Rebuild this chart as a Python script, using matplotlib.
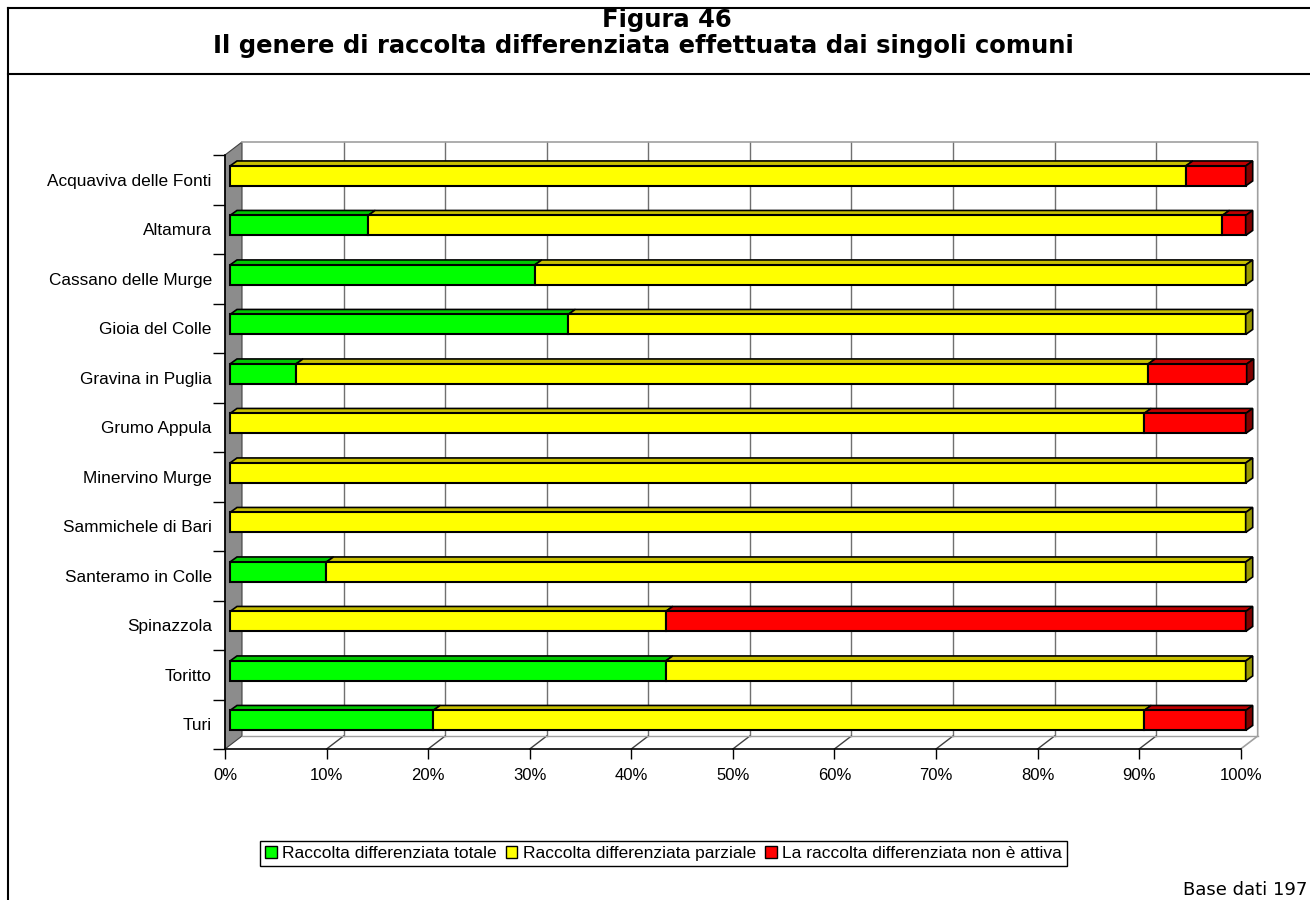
import matplotlib.pyplot as plt
from matplotlib.patches import Polygon, Patch
from matplotlib.lines import Line2D

comuni = ["Acquaviva delle Fonti", "Altamura", "Cassano delle Murge", "Gioia del Colle",
          "Gravina in Puglia", "Grumo Appula", "Minervino Murge", "Sammichele di Bari",
          "Santeramo in Colle", "Spinazzola", "Toritto", "Turi"]
totale = [0, 13.6, 30.0, 33.3, 6.5, 0, 0, 0, 9.5, 0, 42.9, 20.0]
parziale = [94.1, 84.1, 70.0, 66.7, 83.9, 90.0, 100, 100, 90.5, 42.9, 57.1, 70.0]
non_attiva = [5.9, 2.3, 0, 0, 9.7, 10.0, 0, 0, 0, 57.1, 0, 10.0]
serie = ["Raccolta differenziata totale", "Raccolta differenziata parziale",
         "La raccolta differenziata non è attiva"]
x_ticks = list(range(0, 101, 10))

# front / top / side colours per series
colori = [("#00ff00", "#00c800", "#008000"),
          ("#ffff00", "#c8c000", "#999900"),
          ("#ff0000", "#c00000", "#800000")]

W, H = 1310, 900
fig = plt.figure(figsize=(W / 100, H / 100), dpi=100)
plt.rcParams['font.family'] = ['Liberation Sans', 'DejaVu Sans']

# axes = front plane of the 3D box
ax_w, ax_h = 1015.7, 594
ax = fig.add_axes([225 / W, 151 / H, ax_w / W, ax_h / H])
n = len(comuni)
ax.set_xlim(0, 100)
ax.set_ylim(n - 0.5, -0.5)


def px(dx, dy):
    # pixel offset -> data offset (up in the picture = smaller y)
    return dx * 100 / ax_w, -dy * n / ax_h


# walls
bx, by = px(17, 13)
y_top, y_bot = -0.5, n - 0.5
ax.add_patch(Polygon([(0, y_top), (bx, y_top + by), (bx, y_bot + by), (0, y_bot)],
                     facecolor="#8c8c8c", edgecolor="#404040", lw=0.8, zorder=0, clip_on=False))
for x in x_ticks[1:-1]:
    ax.plot([x + bx, x + bx], [y_top + by, y_bot + by], color="#707070", lw=1, zorder=1, clip_on=False)
    ax.plot([x, x + bx], [y_bot, y_bot + by], color="#404040", lw=1, zorder=1, clip_on=False)
ax.plot([bx, 100 + bx, 100 + bx, 100], [y_top + by, y_top + by, y_bot + by, y_bot],
        color="#a0a0a0", lw=1.2, zorder=1, clip_on=False)
ax.plot([bx, 100 + bx], [y_bot + by, y_bot + by], color="#a0a0a0", lw=1, zorder=1, clip_on=False)

# bars
fx, fy = px(5, 3.8)
dx, dy = px(7, 5)
bar_h = 20 * n / ax_h
for i in range(n):
    vals = [totale[i], parziale[i], non_attiva[i]]
    yc = i + fy
    yt = yc - bar_h / 2
    left = 0
    last = None
    for v, (cf, ct, cs) in zip(vals, colori):
        if v <= 0:
            continue
        x0, x1 = left + fx, left + v + fx
        ax.add_patch(Polygon([(x0, yt), (x1, yt), (x1 + dx, yt + dy), (x0 + dx, yt + dy)],
                             facecolor=ct, edgecolor="black", lw=1.2, zorder=3, clip_on=False))
        bars = ax.barh(yc, v, left=x0, height=bar_h, color=cf, edgecolor="black", lw=1.5, zorder=4)
        for b in bars:
            b.set_clip_on(False)
        left += v
        last = (x1, cs)
    x1, cs = last
    ax.add_patch(Polygon([(x1, yt), (x1 + dx, yt + dy), (x1 + dx, yt + bar_h + dy), (x1, yt + bar_h)],
                         facecolor=cs, edgecolor="black", lw=1.2, zorder=4, clip_on=False))

# axes
for s in ["top", "right"]:
    ax.spines[s].set_visible(False)
for s in ["left", "bottom"]:
    ax.spines[s].set_color("black")
    ax.spines[s].set_linewidth(1.2)
    ax.spines[s].set_zorder(5)
ax.set_xticks(x_ticks)
ax.set_xticklabels([f"{t}%" for t in x_ticks], fontsize=12)
ax.tick_params(axis="x", length=7.5, width=1, pad=6)
ax.set_yticks([k - 0.5 for k in range(n + 1)])
ax.set_yticklabels([])
ax.tick_params(axis="y", which="major", length=9, width=1)
ax.set_yticks(range(n), minor=True)
ax.set_yticklabels(comuni, minor=True, fontsize=12.4)
ax.tick_params(axis="y", which="minor", length=0, pad=9.5)
ax.patch.set_visible(False)

# legend
handles = [Patch(facecolor=c[0], edgecolor="black", lw=1) for c in colori]
leg = fig.legend(handles, serie, loc="center", bbox_to_anchor=(663.5 / W, 1 - 853.5 / H), ncol=3,
                 fontsize=12.5, frameon=True, fancybox=False, edgecolor="black", framealpha=1,
                 handlelength=0.65, handleheight=0.65, handletextpad=0.3, columnspacing=0.55,
                 borderpad=0.3, borderaxespad=0)
leg.get_frame().set_linewidth(1)

# title block and frame
fig.text(667 / W, 1 - 20 / H, "Figura 46", ha="center", va="center", fontsize=17.5,
         fontweight="bold", family="DejaVu Sans")
fig.text(643 / W, 1 - 46 / H, "Il genere di raccolta differenziata effettuata dai singoli comuni",
         ha="center", va="center", fontsize=17.5, fontweight="bold", family="DejaVu Sans")
fig.text(1307 / W, 1 - 890 / H, "Base dati 197", ha="right", va="center", fontsize=13,
         family="DejaVu Sans")
for xs, ys in [([8 / W, 8 / W], [0, 1 - 8 / H]), ([8 / W, 1], [1 - 8 / H, 1 - 8 / H]),
               ([8 / W, 1], [1 - 74 / H, 1 - 74 / H])]:
    fig.add_artist(Line2D(xs, ys, color="black", lw=1.5, transform=fig.transFigure))

fig.savefig("out.png", dpi=100)
